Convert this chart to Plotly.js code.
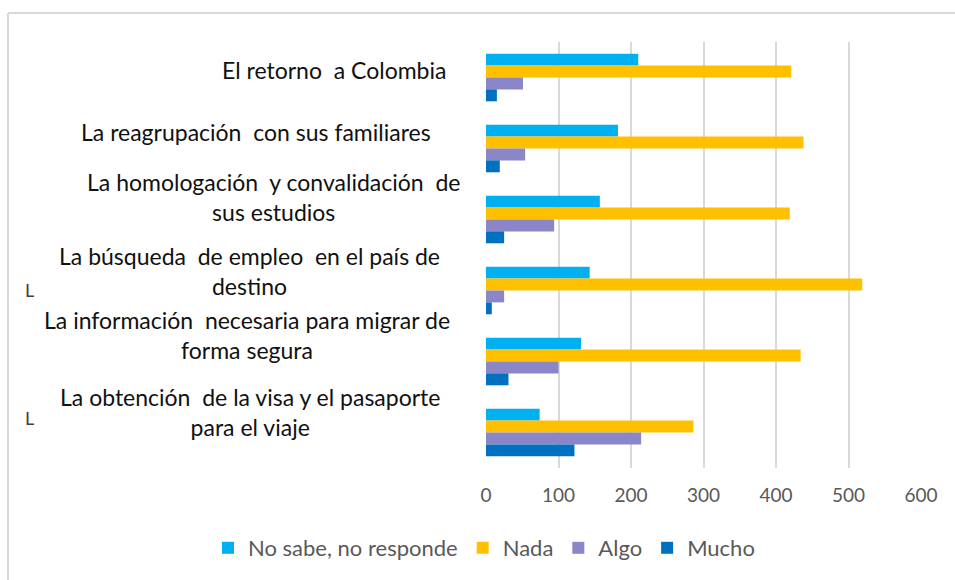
<!DOCTYPE html>
<html>
<head>
<meta charset="utf-8">
<script src="https://cdn.plot.ly/plotly-3.0.1.min.js"></script>
<style>html,body{margin:0;padding:0;background:#fff;}#chart{width:955px;height:580px;}</style>
</head>
<body>
<div id="chart"></div>
<script>
// ---- data ----
const categories = [
  "El retorno\u00a0 a Colombia",
  "La reagrupación\u00a0 con sus familiares",
  "La homologación\u00a0 y convalidación\u00a0 de<br>sus estudios",
  "La búsqueda\u00a0 de empleo\u00a0 en el país de<br>destino",
  "La información\u00a0 necesaria para migrar de<br>forma segura",
  "La obtención\u00a0 de la visa y el pasaporte<br>para el viaje"
];
const seriesNames = ["No sabe, no responde", "Nada", "Algo", "Mucho"];
const noSabe = [210, 182, 157, 143, 131, 74];
const nada   = [421, 438, 419, 519, 434, 286];
const algo   = [51, 54, 94, 25, 100, 214];
const mucho  = [15, 19, 25, 8, 31, 122];
const xTicks = [0, 100, 200, 300, 400, 500, 600];

// ---- styles / layout ----
const colors = ["#00B0F0", "#FFC000", "#8A86C8", "#0070C0"];
const seriesValues = [noSabe, nada, algo, mucho];

const traces = seriesValues.map((vals, i) => ({
  type: "bar",
  orientation: "h",
  name: seriesNames[i],
  y: categories,
  x: vals,
  marker: {color: colors[i]},
  hoverinfo: "x+name"
}));

// plot area in pixels
const L = 486, R = 921, T = 42, B = 468;
const W = 955, H = 580;
const px2x = p => (p - L) / (R - L);
const py2y = p => (B - p) / (B - T);

// label centre positions (pixels)
const labelPos = [[334, 70], [256, 132], [273, 197], [250, 271], [247, 335], [250, 412]];

const FONT = "Lato, 'Open Sans', sans-serif";
const annotations = categories.map((c, i) => ({
  text: c,
  xref: "paper", yref: "paper",
  x: px2x(labelPos[i][0]), y: py2y(labelPos[i][1]),
  xanchor: "center", yanchor: "middle", align: "center",
  showarrow: false,
  font: {family: FONT, size: 23, color: "#111111"}
}));
[[30, 290], [30, 418]].forEach(p => annotations.push({
  text: "L", xref: "paper", yref: "paper",
  x: px2x(p[0]), y: py2y(p[1]), xanchor: "center", yanchor: "middle",
  showarrow: false,
  font: {family: FONT, size: 18, color: "#404040"}
}));

const layout = {
  width: W, height: H,
  margin: {l: L, r: W - R, t: T, b: H - B, pad: 0, autoexpand: false},
  paper_bgcolor: "#ffffff",
  plot_bgcolor: "#ffffff",
  barmode: "group",
  bargap: 0.33,
  bargroupgap: 0,
  showlegend: true,
  legend: {
    orientation: "h",
    xref: "paper", yref: "paper",
    x: px2x(208), y: py2y(548),
    xanchor: "left", yanchor: "middle",
    font: {family: FONT, size: 22, color: "#595959"},
    traceorder: "normal",
    itemwidth: 30,
    bgcolor: "rgba(0,0,0,0)"
  },
  xaxis: {
    range: [0, 600],
    tickvals: xTicks,
    ticktext: xTicks.map(String),
    showgrid: true,
    gridcolor: "#d9d9d9",
    gridwidth: 2,
    zeroline: false,
    showline: false,
    ticks: "",
    ticklabelstandoff: 14,
    tickfont: {family: FONT, size: 19, color: "#595959"},
    fixedrange: true
  },
  yaxis: {
    autorange: "reversed",
    type: "category",
    showticklabels: false,
    showgrid: false,
    zeroline: false,
    showline: false,
    ticks: "",
    fixedrange: true
  },
  annotations: annotations,
  shapes: [
    {type: "line", xref: "paper", yref: "paper",
     x0: px2x(8), x1: px2x(8), y0: py2y(13), y1: py2y(580),
     line: {color: "#d9d9d9", width: 2}},
    {type: "line", xref: "paper", yref: "paper",
     x0: px2x(8), x1: px2x(955), y0: py2y(13), y1: py2y(13),
     line: {color: "#d9d9d9", width: 2}}
  ]
};

Plotly.newPlot("chart", traces, layout, {displayModeBar: false});
</script>
</body>
</html>
